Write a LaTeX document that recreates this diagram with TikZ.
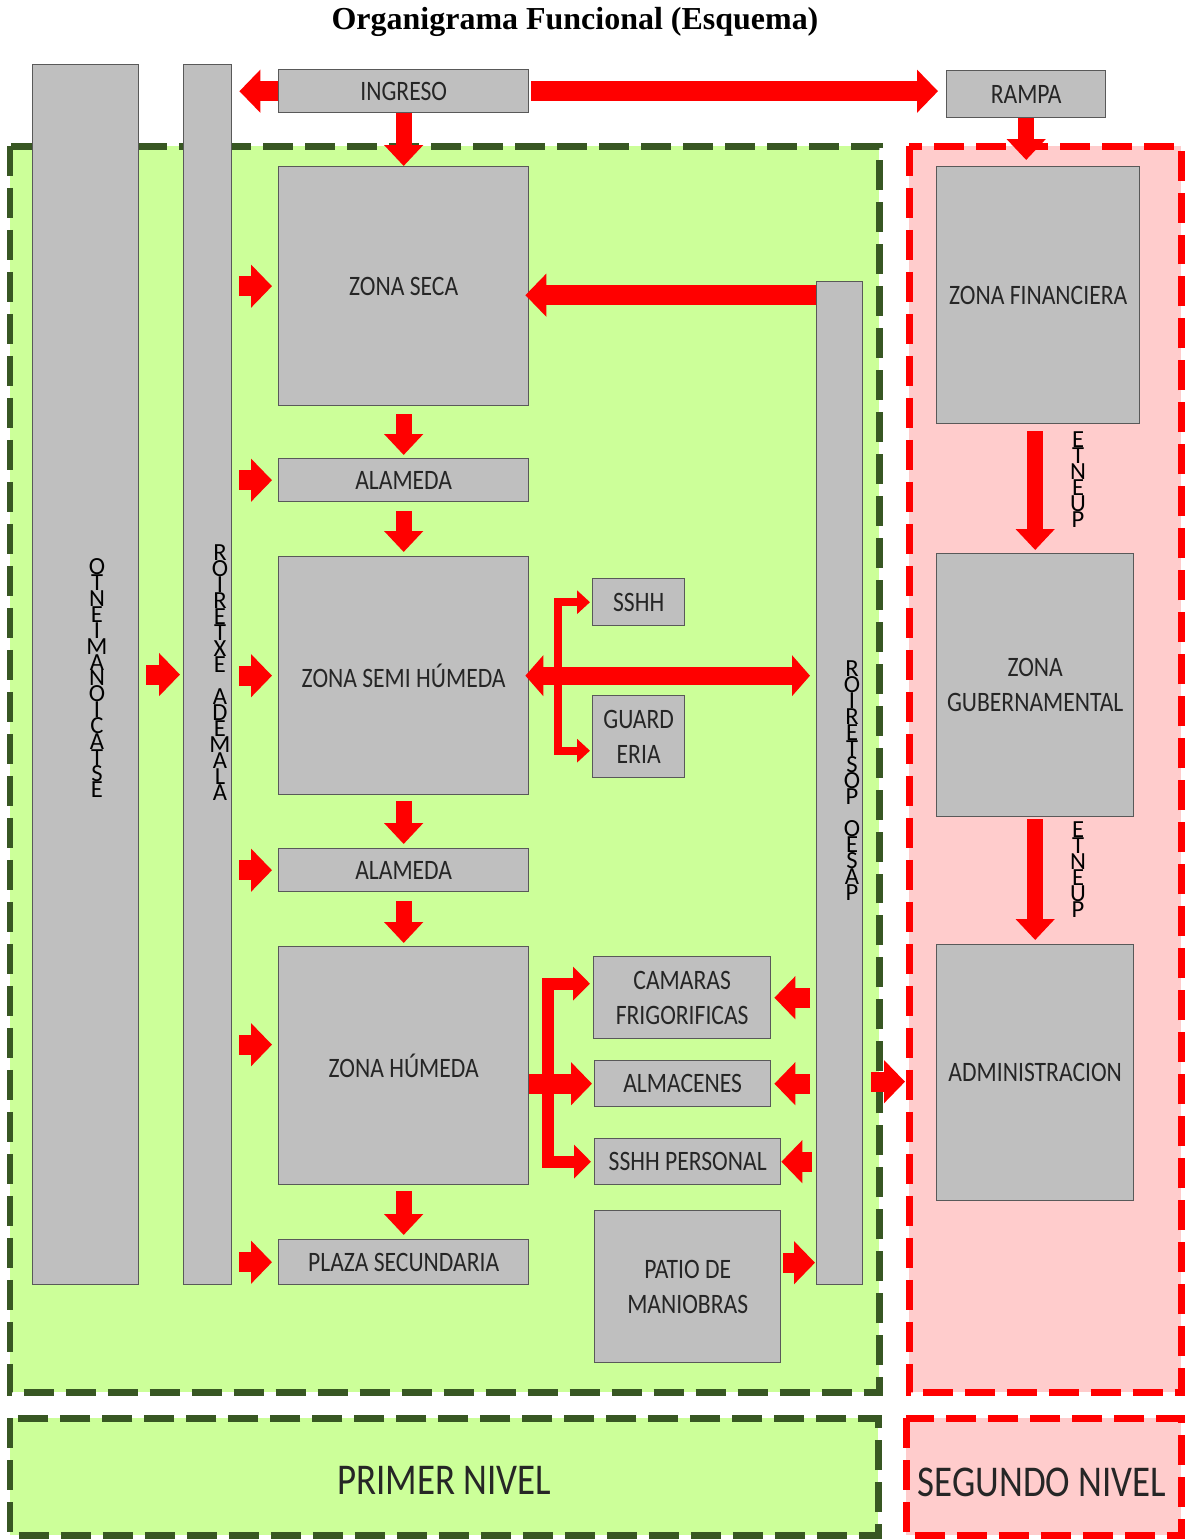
\documentclass[tikz,border=0pt]{standalone}
\usepackage{fontspec}
\setmainfont{Carlito}[FakeStretch=0.84]
\newfontfamily\titlefont{Liberation Serif}
\newfontfamily\pilafont{Carlito}
\usetikzlibrary{arrows.meta, positioning}
\definecolor{boxgray}{HTML}{BFBFBF}
\definecolor{boxline}{HTML}{595959}
\definecolor{lime}{HTML}{CCFF99}
\definecolor{forest}{HTML}{385723}
\definecolor{blush}{HTML}{FFCCCC}
\definecolor{signal}{HTML}{FF0000}
\definecolor{ink}{HTML}{262626}
\newcommand\apretado{\lineskiplimit-\maxdimen\relax}
\tikzset{
  bloque/.style  ={draw=boxline, line width=0.8pt, fill=boxgray, anchor=north west,
                   inner sep=0pt, align=center, text=ink,
                   font=\fontsize{16}{20}\selectfont},
  nivel/.style   ={fill=lime, draw=forest, line width=0.14cm,
                   dash pattern=on 0.6cm off 0.24cm},
  nivelr/.style  ={fill=blush, draw=signal, line width=0.14cm,
                   dash pattern=on 0.6cm off 0.24cm},
  flecha/.style  ={draw=signal, line width=0.4cm,
                   -{Triangle[length=0.42cm,width=0.84cm]}},
  flechav/.style ={draw=signal, line width=0.32cm,
                   -{Triangle[length=0.42cm,width=0.76cm]}},
  doble/.style   ={draw=signal, line width=0.36cm,
                   {Triangle[length=0.36cm,width=0.8cm]}-{Triangle[length=0.36cm,width=0.8cm]}},
  rama/.style    ={draw=signal, line width=0.16cm, line join=miter,
                   -{Triangle[length=0.26cm,width=0.46cm]}},
  ramah/.style   ={draw=signal, line width=0.24cm, line join=miter,
                   -{Triangle[length=0.34cm,width=0.66cm]}},
  vtexto/.style  ={align=center, inner sep=0pt, text=black,
                   font=\pilafont\fontsize{14}{9.1}\selectfont\apretado},
  nivellbl/.style={font=\fontsize{25}{30}\selectfont, text=ink},
  titulo/.style  ={font=\titlefont\bfseries\fontsize{18.2}{20}\selectfont}
}

\begin{document}
\begin{tikzpicture}[x=0.02cm, y=-0.02cm]
  \useasboundingbox (0,0) rectangle (1185,1539);

  % niveles
  \draw[nivel]  (10,146)  rectangle (879,1392);
  \draw[nivelr] (909,146) rectangle (1181,1392);
  \draw[nivel]  (10,1418) rectangle (878,1535);
  \draw[nivelr] (906,1418) rectangle (1181,1535);
  \node[nivellbl] (primer)  at (444,1480)  {PRIMER NIVEL};
  \node[nivellbl] (segundo) at (1042,1482) {SEGUNDO NIVEL};

  \node[titulo] (titulo) at (575,22) {Organigrama Funcional (Esquema)};

  % columnas
  \node[bloque, minimum width=2.12cm, minimum height=24.4cm]  (estac) at (32,64)  {};
  \node[bloque, minimum width=0.96cm, minimum height=24.4cm]  (alext) at (183,64) {};
  \node[bloque, minimum width=0.92cm, minimum height=20.06cm] (paseo) at (816,281) {};
  \node[vtexto] (estactxt) at (97,678)  {O\\T\\N\\E\\I\\M\\A\\N\\O\\I\\C\\A\\T\\S\\E};
  \node[vtexto] (alexttxt) at (220,673) {R\\O\\I\\R\\E\\T\\X\\E\\~\\A\\D\\E\\M\\A\\L\\A};
  \node[vtexto] (paseotxt) at (852,781) {R\\O\\I\\R\\E\\T\\S\\O\\P\\~\\O\\E\\S\\A\\P};

  % bloques centrales
  \node[bloque, minimum width=5cm, minimum height=0.86cm] (ingreso) at (278,69)   {INGRESO};
  \node[bloque, minimum width=3.18cm, minimum height=0.94cm] (rampa) at (946,70)  {RAMPA};
  \node[bloque, minimum width=5cm, minimum height=4.78cm] (zseca)   at (278,166)  {ZONA SECA};
  \node[bloque, minimum width=5cm, minimum height=0.86cm] (alam1)   at (278,458)  {ALAMEDA};
  \node[bloque, minimum width=5cm, minimum height=4.76cm] (zsemi)   at (278,556)  {ZONA SEMI HÚMEDA};
  \node[bloque, minimum width=5cm, minimum height=0.86cm] (alam2)   at (278,848)  {ALAMEDA};
  \node[bloque, minimum width=5cm, minimum height=4.76cm] (zhum)    at (278,946)  {ZONA HÚMEDA};
  \node[bloque, minimum width=5cm, minimum height=0.9cm]  (plaza)   at (278,1239) {PLAZA SECUNDARIA};

  \node[bloque, minimum width=1.84cm, minimum height=0.94cm] (sshh)    at (592,578)  {SSHH};
  \node[bloque, minimum width=1.84cm, minimum height=1.64cm] (guard)   at (592,695)  {GUARD\\ERIA};
  \node[bloque, minimum width=3.54cm, minimum height=1.64cm] (camaras) at (593,956)  {CAMARAS\\FRIGORIFICAS};
  \node[bloque, minimum width=3.52cm, minimum height=0.92cm] (almac)   at (594,1060) {ALMACENES};
  \node[bloque, minimum width=3.72cm, minimum height=0.92cm] (sshhp)   at (594,1138) {SSHH PERSONAL};
  \node[bloque, minimum width=3.72cm, minimum height=3.04cm] (patio)   at (594,1210) {PATIO DE\\MANIOBRAS};

  \node[bloque, minimum width=4.06cm, minimum height=5.14cm] (zfin)  at (936,166) {ZONA FINANCIERA};
  \node[bloque, minimum width=3.94cm, minimum height=5.26cm] (zgub)  at (936,553) {ZONA\\GUBERNAMENTAL};
  \node[bloque, minimum width=3.94cm, minimum height=5.12cm] (admin) at (936,944) {ADMINISTRACION};
  \node[vtexto] (puente1) at (1078,480) {E\\T\\N\\E\\U\\P};
  \node[vtexto] (puente2) at (1078,870) {E\\T\\N\\E\\U\\P};

  % flechas de ingreso
  \draw[flecha, shorten >=0.14cm] (ingreso.west) -- (alext.east |- ingreso.west);
  \draw[flecha, shorten <=0.04cm, shorten >=0.16cm] (ingreso.east) -- (ingreso.east -| rampa.west);
  \draw[flechav] (ingreso.south) -- (zseca.north);
  \draw[flechav, shorten >=0.12cm] (rampa.south) -- (rampa.south |- zfin.north);

  % alameda exterior
  \draw[flecha, shorten <=0.14cm, shorten >=0.06cm] (estac.east) -- (alext.west);
  \draw[flecha, shorten <=0.14cm, shorten >=0.12cm] (alext.east |- zseca.west) -- (zseca.west);
  \draw[flecha, shorten <=0.14cm, shorten >=0.12cm] (alext.east |- alam1.west) -- (alam1.west);
  \draw[flecha, shorten <=0.14cm, shorten >=0.12cm] (alext.east |- zsemi.west) -- (zsemi.west);
  \draw[flecha, shorten <=0.14cm, shorten >=0.12cm] (alext.east |- alam2.west) -- (alam2.west);
  \draw[flecha, shorten <=0.14cm, shorten >=0.12cm] ([yshift=0.42cm]alext.east |- zhum.west) -- ([yshift=0.42cm]zhum.west);
  \draw[flecha, shorten <=0.14cm, shorten >=0.12cm] (alext.east |- plaza.west) -- (plaza.west);

  % recorrido central
  \draw[flechav, shorten <=0.16cm, shorten >=0.06cm] (zseca.south) -- (alam1.north);
  \draw[flechav, shorten <=0.18cm, shorten >=0.08cm] (alam1.south) -- (zsemi.north);
  \draw[flechav, shorten <=0.12cm, shorten >=0.08cm] (zsemi.south) -- (alam2.north);
  \draw[flechav, shorten <=0.18cm, shorten >=0.06cm] (alam2.south) -- (zhum.north);
  \draw[flechav, shorten <=0.12cm, shorten >=0.08cm] (zhum.south) -- (plaza.north);

  % paseo posterior
  \draw[flecha, shorten >=-0.08cm] ([yshift=-0.18cm]zseca.east -| paseo.west) -- ([yshift=-0.18cm]zseca.east);
  \draw[doble, shorten <=-0.08cm, shorten >=0.12cm] (zsemi.east) -- (zsemi.east -| paseo.west);
  \coordinate (nudo) at ([xshift=0.58cm]zsemi.east);
  \draw[rama, shorten >=0.04cm] ([yshift=-0.28cm]nudo |- guard.west) -- (nudo |- sshh.west) -- (sshh.west);
  \draw[rama, shorten >=0.04cm] (nudo |- sshh.west) -- ([yshift=-0.28cm]nudo |- guard.west) -- ([yshift=-0.28cm]guard.west);

  \coordinate (nodo) at ([xshift=0.38cm]zhum.east);
  \draw[flecha, shorten >=0.04cm] (zhum.east |- almac.west) -- (almac.west);
  \draw[ramah, shorten >=0.06cm] (nodo |- sshhp.west) -- ([yshift=0.28cm]nodo |- camaras.west) -- ([yshift=0.28cm]camaras.west);
  \draw[ramah, shorten >=0.06cm] ([yshift=0.28cm]nodo |- camaras.west) -- (nodo |- sshhp.west) -- (sshhp.west);

  \draw[flecha, shorten <=0.12cm, shorten >=0.06cm] (camaras.east -| paseo.west) -- (camaras.east);
  \draw[flecha, shorten <=0.12cm, shorten >=0.06cm] (almac.east -| paseo.west) -- (almac.east);
  \draw[flecha, shorten <=0.08cm] (sshhp.east -| paseo.west) -- (sshhp.east);
  \draw[flecha, shorten <=0.04cm, shorten >=0.02cm] ([yshift=0.48cm]patio.east) -- ([yshift=0.48cm]patio.east -| paseo.west);
  \draw[flecha, shorten <=0.16cm, shorten >=0.62cm] ([yshift=-0.18cm]paseo.east |- admin.west) -- ([yshift=-0.18cm]admin.west);

  % segundo nivel
  \draw[flechav, shorten <=0.14cm, shorten >=0.06cm] (zgub.north |- zfin.south) -- (zgub.north);
  \draw[flechav, shorten <=0.04cm, shorten >=0.08cm] (zgub.south) -- (admin.north);
\end{tikzpicture}
\end{document}
